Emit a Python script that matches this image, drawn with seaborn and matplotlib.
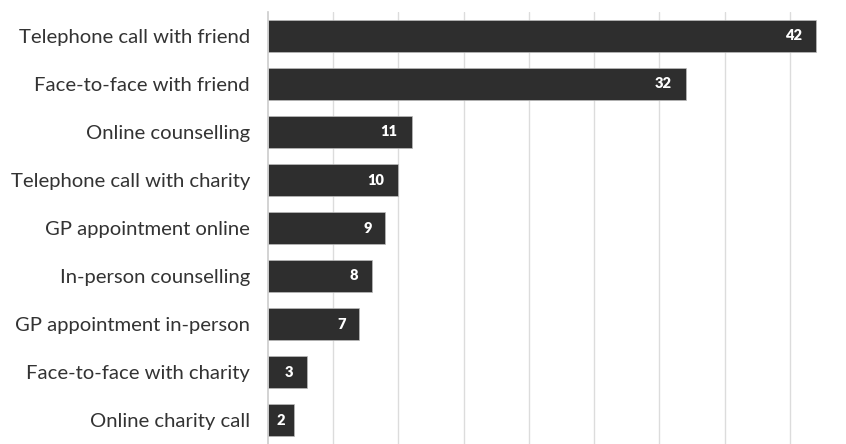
import matplotlib
matplotlib.use("Agg")
import matplotlib.pyplot as plt
import seaborn as sns
import pandas as pd

categories = [
    "Telephone call with friend",
    "Face-to-face with friend",
    "Online counselling",
    "Telephone call with charity",
    "GP appointment online",
    "In-person counselling",
    "GP appointment in-person",
    "Face-to-face with charity",
    "Online charity call",
]
values = [42, 32, 11, 10, 9, 8, 7, 3, 2]

df = pd.DataFrame({"category": categories, "value": values})

sns.set_theme(style="white")
plt.rcParams["font.family"] = ["Lato", "DejaVu Sans"]

fig = plt.figure(figsize=(8.46, 4.44), dpi=100)
ax = fig.add_axes([268 / 846, 0.0, 1 - 268 / 846, 1 - 12 / 444])

sns.barplot(data=df, x="value", y="category", orient="h", color="#2e2e2e",
            saturation=1, width=0.67, edgecolor="#bbbbbb", linewidth=0.5, ax=ax)

ax.set_xlim(0, 44.3)
ax.set_ylim(8.5, -0.5)
ax.set_xticks(range(5, 45, 5))
ax.xaxis.grid(True, color="#dcdcdc", linewidth=1)
ax.set_axisbelow(True)
ax.tick_params(axis="x", length=0, labelbottom=False)
ax.tick_params(axis="y", length=0, labelsize=14.6, labelcolor="#333333", pad=13)
ax.set_xlabel("")
ax.set_ylabel("")
for s in ["top", "right", "bottom"]:
    ax.spines[s].set_visible(False)
ax.spines["left"].set_color("#cccccc")
ax.spines["left"].set_linewidth(1.2)

for i, v in enumerate(values):
    if v <= 2:
        ax.text(v / 2, i, str(v), ha="center", va="center", color="white",
                fontsize=10.5, fontweight="heavy")
    else:
        ax.annotate(str(v), xy=(v, i), xytext=(-10, 0), textcoords="offset points",
                    ha="right", va="center", color="white", fontsize=10.5,
                    fontweight="heavy")

fig.savefig("out.png", dpi=100)
